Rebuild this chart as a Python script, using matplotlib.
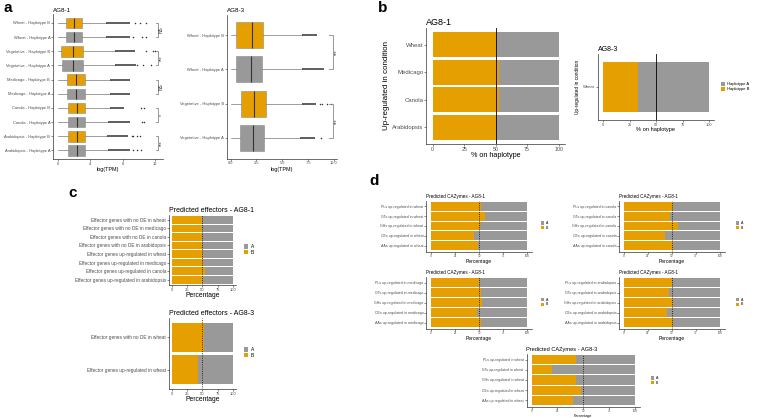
import matplotlib
matplotlib.use("Agg")
import matplotlib.pyplot as plt
from matplotlib.patches import Patch

plt.rcParams['font.family'] = ['Liberation Sans', 'DejaVu Sans']

ORANGE = "#E69F00"
GREY = "#999999"
TICKC = "#4D4D4D"

# ---------------- Panel a data ----------------
a1_labels = ["Wheat - Haplotype B", "Wheat - Haplotype A",
             "Vegetative - Haplotype B", "Vegetative - Haplotype A",
             "Medicago - Haplotype B", "Medicago - Haplotype A",
             "Canola - Haplotype B", "Canola - Haplotype A",
             "Arabidopsis - Haplotype B", "Arabidopsis - Haplotype A"]
a1_hap = ["B", "A", "B", "A", "B", "A", "B", "A", "B", "A"]
a1_whislo = [0.0, 0.0, 0.0, 0.0, 0.0, 0.0, 0.0, 0.0, 0.0, 0.0]
a1_q1 = [1.03, 1.03, 0.37, 0.5, 1.1, 1.1, 1.24, 1.24, 1.24, 1.3]
a1_med = [1.94, 1.94, 1.86, 1.86, 2.2, 2.2, 2.35, 2.35, 2.35, 2.4]
a1_q3 = [3.0, 3.0, 3.1, 3.1, 3.4, 3.3, 3.4, 3.4, 3.3, 3.4]
a1_whishi = [5.9, 5.9, 7.0, 7.0, 6.4, 6.4, 6.4, 6.2, 6.1, 6.2]
a1_dense_hi = [8.9, 8.9, 9.5, 9.6, 8.9, 8.9, 8.2, 8.9, 8.7, 8.9]
a1_sparse = [[9.5, 10.1, 10.8], [9.3, 10.4, 10.8], [10.9, 11.75, 11.95],
             [9.7, 10.5, 11.5], [], [], [10.3, 10.6], [10.4, 10.6],
             [9.1, 9.3, 9.7, 10.1], [9.2, 9.7, 10.3]]
a1_sig_pairs = [(0, 1), (2, 3), (4, 5), (6, 7), (8, 9)]
a1_sig_text = ["NS", "***", "NS", "*", "***"]

a3_labels = ["Wheat - Haplotype B", "Wheat - Haplotype A",
             "Vegetative - Haplotype B", "Vegetative - Haplotype A"]
a3_hap = ["B", "A", "B", "A"]
a3_whislo = [0.0, 0.0, 0.0, 0.0]
a3_q1 = [0.48, 0.48, 1.0, 0.9]
a3_med = [2.1, 2.0, 2.26, 2.2]
a3_q3 = [3.1, 3.0, 3.4, 3.2]
a3_whishi = [6.9, 6.9, 6.9, 6.7]
a3_dense_hi = [8.4, 9.0, 8.3, 8.2]
a3_sparse = [[], [], [8.6, 8.8, 9.3, 9.7], [8.7]]
a3_sig_pairs = [(0, 1), (2, 3)]
a3_sig_text = ["***", "***"]

# ---------------- Panel b data ----------------
b1_cats = ["Wheat", "Medicago", "Canola", "Arabidopsis"]
b1_pctB = [51, 53, 53, 50]
b3_cats = ["Wheat"]
b3_pctB = [33]

# ---------------- Panel c data ----------------
c1_cats = ["Effector genes with no DE in wheat",
           "Effector genes with no DE in medicago",
           "Effector genes with no DE in canola",
           "Effector genes with no DE in arabidopsis",
           "Effector genes up-regulated in wheat",
           "Effector genes up-regulated in medicago",
           "Effector genes up-regulated in canola",
           "Effector genes up-regulated in arabidopsis"]
c1_pctB = [49, 49, 49, 49, 51.5, 51.5, 54, 50.5]
c3_cats = ["Effector genes with no DE in wheat",
           "Effector genes up-regulated in wheat"]
c3_pctB = [52, 43.5]

# ---------------- Panel d data ----------------
cazy = ["PLs", "GTs", "GHs", "CEs", "AAs"]
d_wheat_pctB = [51.5, 56, 51, 45, 49]
d_canola_pctB = [51.4, 48, 56.6, 42.7, 50.7]
d_medicago_pctB = [50, 51.5, 52.6, 47.4, 51.5]
d_arab_pctB = [49.7, 47.2, 51.4, 45, 50.7]
d_ag83_pctB = [43, 20, 43, 48, 40]

W, H = 760, 418
fig = plt.figure(figsize=(W / 100, H / 100), dpi=100)


def ax_px(l, t, r, b):
    return fig.add_axes([l / W, 1 - b / H, (r - l) / W, (b - t) / H])


def style(ax, tick_fs, xtick_fs=None):
    for s in ["top", "right"]:
        ax.spines[s].set_visible(False)
    for s in ["left", "bottom"]:
        ax.spines[s].set_linewidth(0.5)
        ax.spines[s].set_color("#333333")
    ax.tick_params(axis="y", labelsize=tick_fs, length=1.2, width=0.4, pad=0.8,
                   colors="#333333", labelcolor=TICKC)
    ax.tick_params(axis="x", labelsize=xtick_fs or tick_fs, length=1.2, width=0.4,
                   pad=0.8, colors="#333333", labelcolor=TICKC)


def boxpanel(ax, labels, hap, whislo, q1, med, q3, whishi, dense_hi, sparse,
             pairs, sigtxt, xlim, xticks, xticklabels, title, fs, title_fs,
             xl_fs, br):
    n = len(labels)
    pos = [n - i for i in range(n)]
    stats = []
    for i in range(n):
        stats.append(dict(med=med[i], q1=q1[i], q3=q3[i], whislo=whislo[i],
                          whishi=whishi[i], fliers=sparse[i]))
    bp = ax.bxp(stats, positions=pos, orientation="horizontal", widths=0.75,
                patch_artist=True, showcaps=False,
                boxprops=dict(linewidth=0.4, edgecolor="#8a8a8a"),
                medianprops=dict(color="#333333", linewidth=0.8),
                whiskerprops=dict(color="#777777", linewidth=0.5),
                flierprops=dict(marker="o", markersize=1.1, markerfacecolor="#333333",
                                markeredgecolor="none"))
    for i, patch in enumerate(bp["boxes"]):
        patch.set_facecolor(ORANGE if hap[i] == "B" else GREY)
    for i in range(n):
        ax.hlines(pos[i], whishi[i], dense_hi[i], color="#333333", lw=1.1)
    xline, xtick, xtext = br
    for (i, j), t in zip(pairs, sigtxt):
        y1, y2 = pos[i], pos[j]
        ax.plot([xtick, xline, xline, xtick], [y1, y1, y2, y2], color="#888888",
                lw=0.6, clip_on=False)
        ax.text(xtext, (y1 + y2) / 2, t, rotation=90, ha="center", va="center",
                fontsize=3.5, color="#333333")
    ax.set_ylim(0.4, n + 0.6)
    ax.set_xlim(*xlim)
    ax.set_yticks(pos)
    ax.set_yticklabels(labels)
    ax.set_xticks(xticks)
    ax.set_xticklabels(xticklabels)
    ax.set_xlabel("log(TPM)", fontsize=xl_fs, labelpad=1)
    ax.set_title(title, fontsize=title_fs, loc="left", pad=2, x=0.0)
    style(ax, fs)


def stackpanel(ax, cats, pctB, title, fs, xtick_fs, title_fs, xl_fs, xlabel,
               ylabel=None, yl_fs=None, vline_style=":"):
    n = len(cats)
    pos = [n - i for i in range(n)]
    ax.barh(pos, pctB, height=0.9, color=ORANGE, linewidth=0)
    ax.barh(pos, [100 - v for v in pctB], left=pctB, height=0.9, color=GREY,
            linewidth=0)
    ax.axvline(50, color="black", lw=0.6, ls=vline_style)
    ax.set_xlim(-5, 105)
    ax.set_ylim(0.4, n + 0.6)
    ax.set_yticks(pos)
    ax.set_yticklabels(cats)
    ax.set_xticks([0, 25, 50, 75, 100])
    ax.set_xlabel(xlabel, fontsize=xl_fs, labelpad=0.5)
    if ylabel:
        ax.set_ylabel(ylabel, fontsize=yl_fs, labelpad=2)
    ax.set_title(title, fontsize=title_fs, loc="left", pad=2)
    style(ax, fs, xtick_fs)


def legend_at(x, y, labels, fs, hs=1.0):
    handles = [Patch(facecolor=GREY, edgecolor="none", label=labels[0]),
               Patch(facecolor=ORANGE, edgecolor="none", label=labels[1])]
    fig.legend(handles=handles, loc="center left",
               bbox_to_anchor=(x / W, 1 - y / H), frameon=False, fontsize=fs,
               handlelength=hs, handleheight=hs, handletextpad=0.5,
               labelspacing=0.15, borderaxespad=0, borderpad=0)


# ---------- panel a ----------
ax = ax_px(53, 14.5, 163, 159)
boxpanel(ax, a1_labels, a1_hap, a1_whislo, a1_q1, a1_med, a1_q3, a1_whishi,
         a1_dense_hi, a1_sparse, a1_sig_pairs, a1_sig_text, (-0.6, 12.95),
         [0, 4, 8, 12], ["0", "4", "8", "12"], "AG8-1", 2.9, 4.5, 3.9,
         (12.35, 12.05, 12.75))

ax = ax_px(226.5, 14.5, 336.7, 158.5)
boxpanel(ax, a3_labels, a3_hap, a3_whislo, a3_q1, a3_med, a3_q3, a3_whishi,
         a3_dense_hi, a3_sparse, a3_sig_pairs, a3_sig_text, (-0.39, 10.26),
         [0, 2.5, 5, 7.5, 10], ["0.0", "2.5", "5.0", "7.5", "10.0"], "AG8-3",
         2.9, 4.5, 3.9, (9.87, 9.55, 10.2))

# ---------- panel b ----------
ax = ax_px(426.4, 28, 565, 144)
stackpanel(ax, b1_cats, b1_pctB, "AG8-1", 4.3, 3.8, 6.5, 5.2, "% on haplotype",
           "Up-regulated in condition", 5.8, vline_style="-")
ax = ax_px(597.7, 54, 714.3, 120)
stackpanel(ax, b3_cats, b3_pctB, "AG8-3", 3.0, 2.8, 5.0, 4.1, "% on haplotype",
           "Up-regulated in condition", 3.4, vline_style="-")
legend_at(721, 86.5, ["Haplotype A", "Haplotype B"], 3.0)

# ---------- panel c ----------
ax = ax_px(168.8, 214.7, 235.8, 284.8)
stackpanel(ax, c1_cats, c1_pctB, "Predicted effectors - AG8-1", 3.4, 3.0, 5.0,
           4.9, "Percentage")
legend_at(243.5, 249.5, ["A", "B"], 3.5)
ax = ax_px(168.8, 318.2, 235.8, 388.8)
stackpanel(ax, c3_cats, c3_pctB, "Predicted effectors - AG8-3", 3.4, 3.0, 5.0,
           4.9, "Percentage")
legend_at(243.5, 352.5, ["A", "B"], 3.5)

# ---------- panel d ----------
d_specs = [
    ((426.2, 200.5, 532.1, 251.5), "wheat", d_wheat_pctB, "AG8-1", (541, 225.5)),
    ((619.2, 200.5, 724.8, 251.5), "canola", d_canola_pctB, "AG8-1", (736, 225.5)),
    ((426.2, 276.5, 532.1, 328.5), "medicago", d_medicago_pctB, "AG8-1", (541, 302)),
    ((619.2, 276.5, 724.8, 328.5), "arabidopsis", d_arab_pctB, "AG8-1", (736, 302)),
]
for rect, host, vals, strain, lg in d_specs:
    ax = ax_px(*rect)
    cats = [f"{c} up-regulated in {host}" for c in cazy]
    stackpanel(ax, cats, vals, f"Predicted CAZymes - {strain}", 2.6, 2.2, 3.3,
               3.6, "Percentage")
    legend_at(lg[0], lg[1], ["A", "B"], 2.5)

ax = ax_px(526.5, 353.5, 640.1, 406.5)
stackpanel(ax, [f"{c} up-regulated in wheat" for c in cazy], d_ag83_pctB,
           "Predicted CAZymes - AG8-3", 2.5, 2.2, 4.1, 2.6, "Percentage")
legend_at(651, 380.5, ["A", "B"], 2.5)

# ---------- panel letters ----------
for lbl, x, y in [("a", 8, 8), ("b", 383, 8), ("c", 73, 193), ("d", 374, 181)]:
    fig.text(x / W, 1 - y / H, lbl, fontsize=11, fontweight="bold",
             ha="center", va="center")

fig.savefig("out.png", dpi=100)
